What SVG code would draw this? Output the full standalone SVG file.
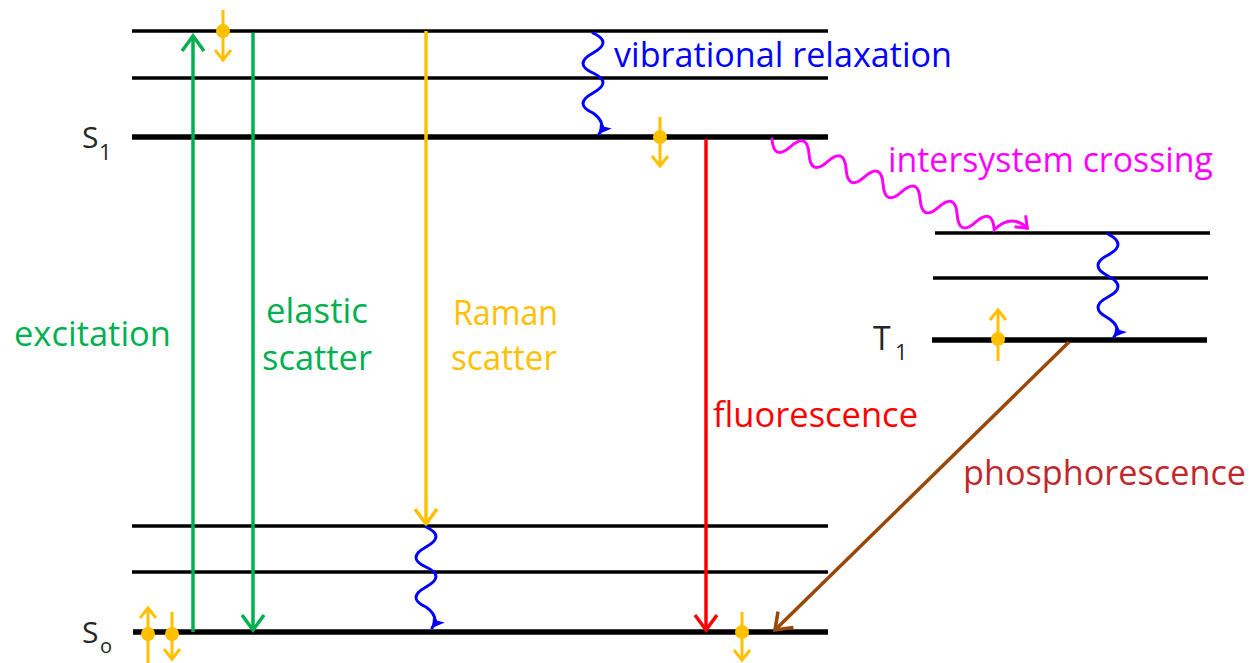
<svg xmlns="http://www.w3.org/2000/svg" width="1255" height="663" viewBox="0 0 1255 663">
<style>
.lvl{stroke:#000;stroke-width:3.5;fill:none}
.lvl0{stroke:#000;stroke-width:5.5;fill:none}
.lbl{font-family:"Open Sans","Liberation Sans",sans-serif;font-size:34px}
.st{font-family:"Open Sans","Liberation Sans",sans-serif;fill:#262626}
.spin{stroke:#ffc000;stroke-width:3;fill:none}
.dot{fill:#ffc000}
.wave{fill:none;stroke-width:3;stroke-linecap:round}
</style>
<defs>
<marker id="chG" markerUnits="userSpaceOnUse" viewBox="-20 -15 25 30" refX="0" refY="0" markerWidth="25" markerHeight="30" orient="auto"><path d="M-15,-11 L0,0 L-15,11" fill="none" stroke="#00b050" stroke-width="3.5"/></marker>
<marker id="chO" markerUnits="userSpaceOnUse" viewBox="-20 -15 25 30" refX="0" refY="0" markerWidth="25" markerHeight="30" orient="auto"><path d="M-15,-11 L0,0 L-15,11" fill="none" stroke="#ffc000" stroke-width="3.5"/></marker>
<marker id="chR" markerUnits="userSpaceOnUse" viewBox="-20 -15 25 30" refX="0" refY="0" markerWidth="25" markerHeight="30" orient="auto"><path d="M-15,-11 L0,0 L-15,11" fill="none" stroke="#ff0000" stroke-width="3.5"/></marker>
<marker id="chB" markerUnits="userSpaceOnUse" viewBox="-20 -15 25 30" refX="0" refY="0" markerWidth="25" markerHeight="30" orient="auto"><path d="M-15,-11 L0,0 L-15,11" fill="none" stroke="#984807" stroke-width="3.5"/></marker>
<marker id="sp" markerUnits="userSpaceOnUse" viewBox="-15 -10 20 20" refX="0" refY="0" markerWidth="20" markerHeight="20" orient="auto"><path d="M-10,-8 L0,0 L-10,8" fill="none" stroke="#ffc000" stroke-width="3"/></marker>
<marker id="tb" markerUnits="userSpaceOnUse" viewBox="-14 -9 16 18" refX="0" refY="0" markerWidth="16" markerHeight="18" orient="auto"><path d="M-12,-7 L0,0 L-12,7 L-9,0 Z" fill="#0000ff"/></marker>
<marker id="tm" markerUnits="userSpaceOnUse" viewBox="-14 -10 16 20" refX="0" refY="0" markerWidth="16" markerHeight="20" orient="auto"><path d="M-10,-8 L0,0 L-10,8" fill="none" stroke="#ff00ff" stroke-width="3"/></marker>
</defs>
<rect width="1255" height="663" fill="#fff"/>

<g id="S1">
<line class="lvl" x1="132" y1="31" x2="828" y2="31"/>
<line class="lvl" x1="132" y1="78" x2="828" y2="78"/>
<line class="lvl0" x1="132" y1="137" x2="828" y2="137"/>
<text class="st" x="82" y="148" font-size="30">S</text>
<text class="st" x="99" y="160" font-size="22">1</text>
</g>
<g id="T1">
<line class="lvl" x1="935" y1="233" x2="1210" y2="233"/>
<line class="lvl" x1="933" y1="278" x2="1208" y2="278"/>
<line class="lvl0" x1="932" y1="340" x2="1207" y2="340"/>
<text class="st" x="873" y="350" font-size="32">T</text>
<text class="st" x="895" y="360" font-size="22">1</text>
</g>
<g id="S0">
<line class="lvl" x1="132" y1="526" x2="828" y2="526"/>
<line class="lvl" x1="132" y1="572" x2="828" y2="572"/>
<line class="lvl0" x1="133" y1="632" x2="828" y2="632"/>
<text class="st" x="82" y="643" font-size="30">S</text>
<text class="st" x="100" y="653" font-size="20">o</text>
</g>

<g id="connectors">
<line x1="193" y1="632" x2="193" y2="36" stroke="#00b050" stroke-width="3.5" marker-end="url(#chG)"/>
<line x1="253" y1="33" x2="253" y2="630" stroke="#00b050" stroke-width="3.5" marker-end="url(#chG)"/>
<line x1="426" y1="31" x2="426" y2="524" stroke="#ffc000" stroke-width="3.5" marker-end="url(#chO)"/>
<line x1="706" y1="139" x2="706" y2="630" stroke="#ff0000" stroke-width="3.5" marker-end="url(#chR)"/>
<line x1="1069" y1="342" x2="775" y2="630" stroke="#984807" stroke-width="3.5" marker-end="url(#chB)"/>
<path class="wave" stroke="#0000ff" d="M593,33 q20,9 0,20 t0,20 t0,20 t0,20 q14,10 6,21" marker-end="url(#tb)"/>
<path class="wave" stroke="#0000ff" d="M426,527 q20,9 0,20 t0,20 t0,20 t0,20 q14,10 6,21" marker-end="url(#tb)"/>
<path class="wave" stroke="#0000ff" d="M1108,234 q20,10.5 0,21 t0,21 t0,21 t0,21 q14,9 6,19" marker-end="url(#tb)"/>
<path class="wave" stroke="#ff00ff" transform="translate(772,139) rotate(22.2)" d="M0,0 q10,20 20,0 t20,0 t20,0 t20,0 t20,0 t20,0 t20,0 t20,0 t20,0 t20,0 t20,0 t20,0 q10,-22 30,-14" marker-end="url(#tm)"/>
</g>

<g id="spins">
<line class="spin" x1="223" y1="10" x2="223" y2="60" marker-end="url(#sp)"/>
<circle class="dot" cx="223" cy="31" r="7"/>
<line class="spin" x1="660" y1="117" x2="660" y2="166" marker-end="url(#sp)"/>
<circle class="dot" cx="660" cy="137" r="7"/>
<line class="spin" x1="998" y1="361" x2="998" y2="310" marker-end="url(#sp)"/>
<circle class="dot" cx="998" cy="339" r="7"/>
<line class="spin" x1="148" y1="663" x2="148" y2="608" marker-end="url(#sp)"/>
<circle class="dot" cx="148" cy="634" r="7"/>
<line class="spin" x1="172" y1="612" x2="172" y2="659" marker-end="url(#sp)"/>
<circle class="dot" cx="172" cy="634" r="7"/>
<line class="spin" x1="742" y1="612" x2="742" y2="660" marker-end="url(#sp)"/>
<circle class="dot" cx="742" cy="632" r="7"/>
</g>

<g id="labels">
<text class="lbl" fill="#0000ff" x="614" y="67" textLength="338" lengthAdjust="spacingAndGlyphs">vibrational relaxation</text>
<text class="lbl" fill="#ff00ff" x="888" y="172" textLength="325" lengthAdjust="spacingAndGlyphs">intersystem crossing</text>
<text class="lbl" fill="#00b050" x="14" y="346" textLength="157" lengthAdjust="spacingAndGlyphs">excitation</text>
<text class="lbl" fill="#00b050" x="266" y="323" textLength="102" lengthAdjust="spacingAndGlyphs">elastic</text>
<text class="lbl" fill="#00b050" x="262" y="370" textLength="110" lengthAdjust="spacingAndGlyphs">scatter</text>
<text class="lbl" fill="#ffc000" x="453" y="325" textLength="105" lengthAdjust="spacingAndGlyphs">Raman</text>
<text class="lbl" fill="#ffc000" x="451" y="370" textLength="106" lengthAdjust="spacingAndGlyphs">scatter</text>
<text class="lbl" fill="#ff0000" x="713" y="427" textLength="205" lengthAdjust="spacingAndGlyphs">fluorescence</text>
<text class="lbl" fill="#c0282d" x="963" y="485" textLength="283" lengthAdjust="spacingAndGlyphs">phosphorescence</text>
</g>
</svg>
